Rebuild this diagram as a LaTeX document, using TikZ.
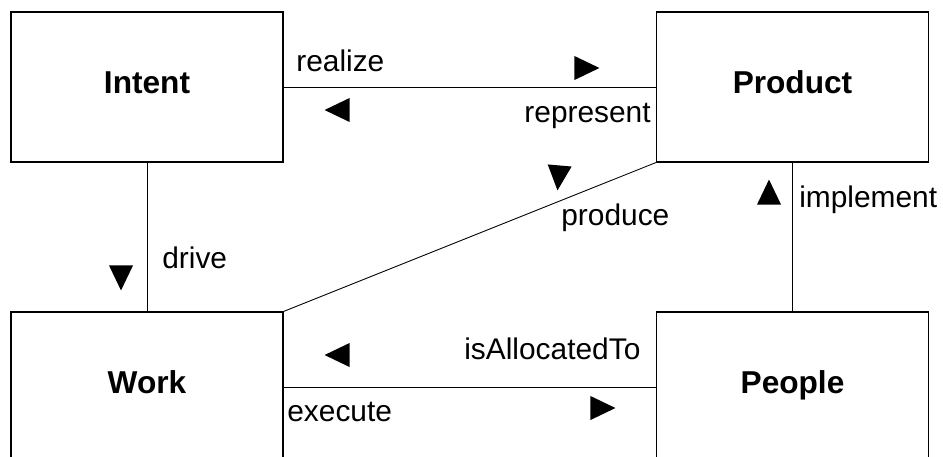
\documentclass[tikz,border=0pt]{standalone}
\usepackage{fontspec}
\setmainfont{Liberation Sans}
\usepackage{tikz}
\usetikzlibrary{shapes.geometric}

\tikzset{
  entity/.style={draw, line width=0.6pt, rectangle, minimum width=5.44cm, minimum height=3cm,
    font=\fontsize{18}{22}\selectfont\bfseries, text height=1.4ex, text depth=0pt},
  role/.style={inner sep=0pt, font=\fontsize{17}{20}\selectfont},
  marker/.style={isosceles triangle, isosceles triangle stretches, fill=black, draw=none,
    inner sep=0pt, minimum width=0.48cm, minimum height=0.5cm},
  link/.style={line width=0.5pt}
}

\begin{document}
\begin{tikzpicture}

\useasboundingbox (0,0) rectangle (18.86,-9.12);

% entity boxes

\node[entity] (intent) at (2.94, -1.74) {Intent};
\node[entity] (product) at (15.85, -1.74) {Product};
\node[entity] (work) at (2.94, -7.74) {Work};
\node[entity] (people) at (15.85, -7.74) {People};

% links between boxes

\draw [link] (intent) -- (product);
\draw [link] (intent) -- (work);
\draw [link] (product) -- (people);
\draw [link] (work) -- (people);
\draw [link] (work.north east) -- (product.south west);

% role labels

\node[role, anchor=base west] (realize) at (5.92, -1.42) {realize};
\node[role, anchor=base east] (represent) at (13.02, -2.44) {represent};
\node[role, anchor=base west] (drive) at (3.24, -5.36) {drive};
\node[role, anchor=base west] (produce) at (11.22, -4.5) {produce};
\node[role, anchor=base west] (implement) at (15.98, -4.14) {implement};
\node[role, anchor=base west] (allocated) at (9.28, -7.18) {isAllocatedTo};
\node[role, anchor=base west] (execute) at (5.74, -8.42) {execute};

% direction markers

\node[marker] (realize_dir) at (11.64, -1.36) {};
\node[marker, rotate=180] (represent_dir) at (6.84, -2.2) {};
\node[marker, rotate=-90] (drive_dir) at (2.42, -5.46) {};
\node[marker, rotate=-95] (produce_dir) at (11.18, -3.46) {};
\node[marker, rotate=90] (implement_dir) at (15.38, -3.94) {};
\node[marker, rotate=180] (allocated_dir) at (6.84, -7.1) {};
\node[marker] (execute_dir) at (11.96, -8.16) {};

\end{tikzpicture}
\end{document}
